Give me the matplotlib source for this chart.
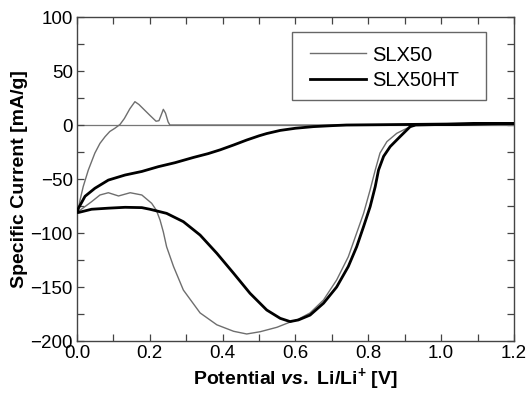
import matplotlib as mpl
mpl.use('Agg')
import matplotlib.pyplot as plt
from matplotlib.ticker import MultipleLocator, FormatStrFormatter
from matplotlib.patches import Rectangle

# SLX50: cathodic sweep (1.2 -> 0 V) then anodic sweep (0 -> 1.2 V)
slx50_v = [1.2, 1.0, 0.93, 0.906, 0.878, 0.851, 0.832, 0.819, 0.805, 0.787, 0.768,
           0.745, 0.713, 0.677, 0.64, 0.604, 0.585, 0.549, 0.503, 0.466, 0.43,
           0.384, 0.338, 0.292, 0.265, 0.246, 0.237, 0.228, 0.218, 0.205, 0.178,
           0.146, 0.114, 0.086, 0.063, 0.04, 0.02, 0.004, 0.0,
           0.004, 0.008, 0.017, 0.031, 0.049, 0.063, 0.077, 0.09, 0.104, 0.118,
           0.13, 0.145, 0.159, 0.17, 0.182, 0.2, 0.217, 0.225, 0.232, 0.237,
           0.243, 0.25, 0.255, 0.3, 1.2]
slx50_i = [0, 0, 0, -3, -7.7, -15.4, -26, -41.7, -60, -81.8, -100,
           -122, -143.5, -162, -174, -180.5, -182.5, -187.3, -191.4, -193.5, -191,
           -185, -174, -152.8, -131, -112.7, -99, -88, -79, -72.5, -64.8,
           -62.7, -65.7, -62.7, -64.8, -71, -76, -80, -81,
           -78, -70, -57, -41.7, -26, -17, -10.8, -6, -3, 0.5,
           6, 15, 21.6, 19, 15, 9, 3.5, 4, 10, 14.5,
           11, 3, 0, 0, 0]

# SLX50HT
slx50ht_v = [1.2, 1.0, 0.93, 0.915, 0.887, 0.86, 0.842, 0.828, 0.819, 0.805, 0.787,
             0.768, 0.745, 0.713, 0.677, 0.64, 0.608, 0.585, 0.558, 0.521, 0.475,
             0.43, 0.384, 0.338, 0.292, 0.246, 0.2, 0.178, 0.132, 0.086, 0.04,
             0.004, 0.0,
             0.004, 0.022, 0.049, 0.086, 0.132, 0.178, 0.223, 0.269, 0.32, 0.36,
             0.393, 0.43, 0.466, 0.5, 0.521, 0.558, 0.6, 0.649, 0.7, 0.74, 0.9, 1.2]
slx50ht_i = [1.5, 0.5, 0, -1.5, -10.8, -20, -29, -41.7, -57, -75.6, -94,
             -112.7, -131, -150, -165, -176, -180.5, -182, -179, -171.3, -155.8,
             -137.3, -118.8, -101.9, -89.5, -81.8, -78, -76.5, -76.2, -77, -78,
             -81, -81,
             -77, -66, -58.6, -51, -46.3, -43, -38.6, -34.9, -30, -26.5,
             -23, -18.5, -13.9, -10, -7.9, -5, -3, -1.5, -0.6, 0, 0.5, 1.5]

plt.rcParams['font.family'] = 'Liberation Sans'
plt.rcParams['mathtext.fontset'] = 'custom'
plt.rcParams['mathtext.rm'] = 'Liberation Sans:bold'
plt.rcParams['mathtext.bf'] = 'Liberation Sans:bold'
plt.rcParams['mathtext.it'] = 'Liberation Sans:bold:italic'

fig = plt.figure(figsize=(5.29, 3.93), dpi=100)
ax = fig.add_axes([0.1456, 0.1323, 0.826, 0.8244])

ax.axhline(0, color='#777777', lw=0.9, zorder=1)
ax.plot(slx50_v, slx50_i, color='#6e6e6e', lw=1.0, label='SLX50', zorder=2,
        solid_joinstyle='round')
ax.plot(slx50ht_v, slx50ht_i, color='black', lw=2.0, label='SLX50HT', zorder=3,
        solid_joinstyle='round')

ax.set_xlim(0, 1.2)
ax.set_ylim(-200, 100)
ax.xaxis.set_major_locator(MultipleLocator(0.2))
ax.xaxis.set_minor_locator(MultipleLocator(0.1))
ax.yaxis.set_major_locator(MultipleLocator(50))
ax.yaxis.set_minor_locator(MultipleLocator(25))
ax.xaxis.set_major_formatter(FormatStrFormatter('%.1f'))
ax.tick_params(which='both', direction='in', top=True, right=True,
               labelsize=13.5, color='#444444', width=0.9, length=5)
ax.tick_params(which='major', pad=3)
for s in ax.spines.values():
    s.set_color('#444444')
    s.set_linewidth(1.0)

ax.set_ylabel('Specific Current [mA/g]', fontsize=14, fontweight='bold', labelpad=2)
ax.set_xlabel(r'Potential $\it{vs.}$ Li/Li$^{+}$ [V]', fontsize=14,
              fontweight='bold', labelpad=3)

# legend box drawn separately so its padding matches the reference
ax.add_patch(Rectangle((0.492, 0.744), 0.444, 0.210, transform=ax.transAxes,
                       fill=True, facecolor='white', edgecolor='#666666',
                       lw=1.0, zorder=4))
leg = ax.legend(loc='upper left', bbox_to_anchor=(0.533, 0.912), fontsize=14.5,
                frameon=False, handlelength=2.8, handletextpad=0.3,
                borderpad=0, borderaxespad=0, labelspacing=0.3)
leg.set_zorder(5)

fig.savefig('out.png', dpi=100)
